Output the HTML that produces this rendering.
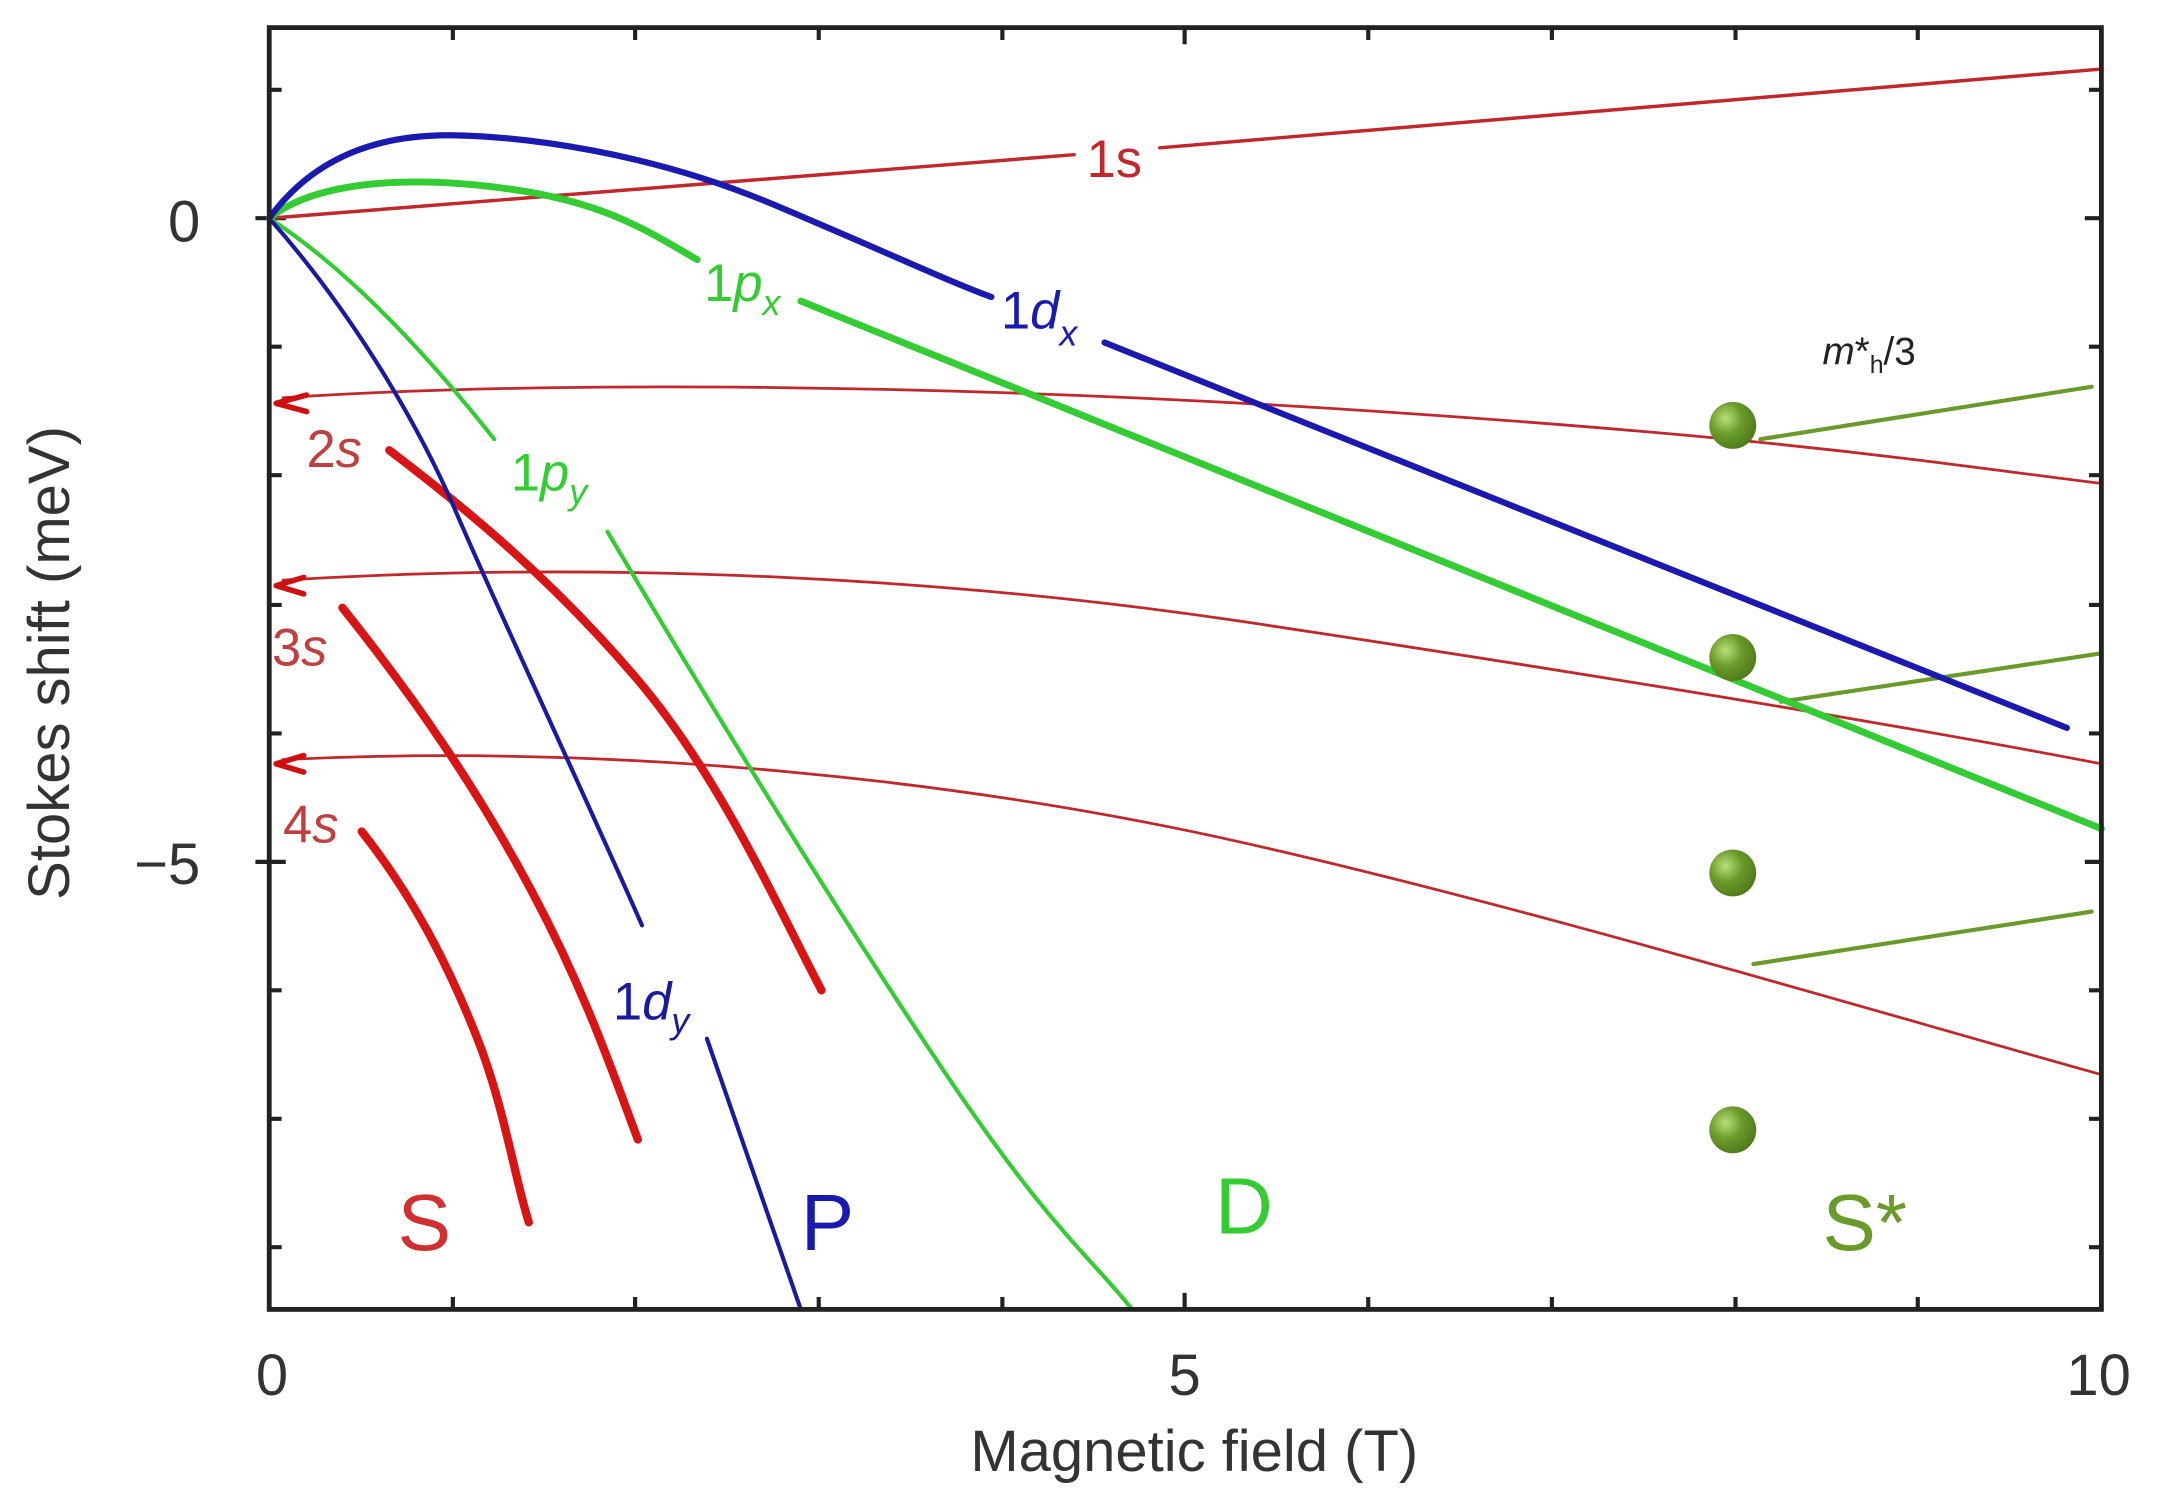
<!DOCTYPE html>
<html><head><meta charset="utf-8"><style>
html,body{margin:0;padding:0;background:#fff;}
svg{display:block;}
text{font-family:"Liberation Sans",sans-serif;}
</style></head><body>
<svg width="2158" height="1500" viewBox="0 0 1563 1086" preserveAspectRatio="none" xmlns="http://www.w3.org/2000/svg">
<rect width="1563" height="1086" fill="#fff"/>
<g stroke="#222" stroke-width="3">
<path d="M328,20v9M460,20v9M593,20v9M726,20v9M858,20v12M991,20v9M1124,20v9M1257,20v9M1389,20v9"/>
<path d="M328,948v-9M460,948v-9M593,948v-9M726,948v-9M858,948v-12M991,948v-9M1124,948v-9M1257,948v-9M1389,948v-9"/>
<path d="M195,65h9M195,158h12M195,251h9M195,344h9M195,438h9M195,531h9M195,624h12M195,717h9M195,810h9M195,903h9"/>
<path d="M1522,65h-9M1522,158h-12M1522,251h-9M1522,344h-9M1522,438h-9M1522,531h-9M1522,624h-12M1522,717h-9M1522,810h-9M1522,903h-9"/>
<path d="M185,158h10M185,624h10"/>
</g>
<g fill="none" stroke-linecap="round">
<path d="M195,158 L778,112 M840,107 L1522,50" stroke="#c0282c" stroke-width="2.5"/>
<path d="M205,288 C400,275 700,278 1000,298 S1400,335 1522,350" stroke="#c0282c" stroke-width="2"/>
<path d="M205,420 C450,405 700,420 900,450 S1350,520 1522,553" stroke="#c0282c" stroke-width="2"/>
<path d="M205,550 C450,538 700,565 900,610 S1350,730 1522,778" stroke="#c0282c" stroke-width="2"/>
<path d="M200,292 l22,-6 M200,292 l22,6" stroke="#d01010" stroke-width="4"/>
<path d="M200,424 l20,-6 M200,424 l20,6" stroke="#d01010" stroke-width="4"/>
<path d="M200,553 l20,-6 M200,553 l20,6" stroke="#d01010" stroke-width="4"/>
<path d="M282,326 C340,370 400,420 460,490 S560,650 595,717" stroke="#d81414" stroke-width="6"/>
<path d="M248,440 C300,505 345,570 385,645 S445,780 462,825" stroke="#d81414" stroke-width="6"/>
<path d="M262,602 C300,650 325,700 345,750 S372,850 383,885" stroke="#d81414" stroke-width="6"/>
<path d="M1275,318 L1515,280 M1290,508 L1522,473 M1270,698 L1515,660" stroke="#6a9a2a" stroke-width="3"/>
<path d="M195,158 C260,200 320,270 358,318" stroke="#33cc33" stroke-width="3"/>
<path d="M440,385 C520,520 600,650 680,770 S790,910 820,948" stroke="#33cc33" stroke-width="3"/>
<path d="M195,158 C250,220 300,300 330,370 S430,590 465,670" stroke="#1a1aa0" stroke-width="3"/>
<path d="M512,752 L580,948" stroke="#1a1aa0" stroke-width="3"/>
<path d="M195,158 C230,130 300,127 370,137 S470,168 505,188" stroke="#33cc33" stroke-width="5"/>
<path d="M580,218 L1522,600" stroke="#33cc33" stroke-width="5"/>
<path d="M195,158 C230,110 280,97 330,98 S470,110 560,148 S690,205 718,215" stroke="#1a1ab0" stroke-width="4.5"/>
<path d="M800,248 L1497,527" stroke="#1a1ab0" stroke-width="4.5"/>
</g>
<defs><radialGradient id="g" cx="0.35" cy="0.35" r="0.7"><stop offset="0" stop-color="#b8e07a"/><stop offset="0.5" stop-color="#6a9a2a"/><stop offset="1" stop-color="#4e7a1a"/></radialGradient></defs>
<g fill="url(#g)"><circle cx="1255" cy="308" r="17"/><circle cx="1255" cy="476" r="17"/><circle cx="1255" cy="632" r="17"/><circle cx="1255" cy="818" r="17"/></g>
<rect x="195" y="20" width="1327" height="928" fill="none" stroke="#222" stroke-width="3.5"/>
<g font-size="38">
<text x="787" y="128" fill="#c0282c">1s</text>
<text x="510" y="218" fill="#33cc33">1<tspan font-style="italic">p</tspan><tspan font-size="26" dy="10" font-style="italic">x</tspan></text>
<text x="725" y="238" fill="#1a1ab0">1<tspan font-style="italic">d</tspan><tspan font-size="26" dy="12" font-style="italic">x</tspan></text>
<text x="370" y="355" fill="#33cc33">1<tspan font-style="italic">p</tspan><tspan font-size="26" dy="10" font-style="italic">y</tspan></text>
<text x="444" y="738" fill="#1a1aa0">1<tspan font-style="italic">d</tspan><tspan font-size="26" dy="10" font-style="italic">y</tspan></text>
<text x="222" y="338" fill="#c04040">2<tspan font-style="italic">s</tspan></text>
<text x="197" y="482" fill="#c04040">3<tspan font-style="italic">s</tspan></text>
<text x="205" y="610" fill="#c04040">4<tspan font-style="italic">s</tspan></text>
</g>
<text x="1320" y="264" font-size="28" fill="#222"><tspan font-style="italic">m</tspan>*<tspan font-size="18" dy="6">h</tspan><tspan dy="-6">/3</tspan></text>
<g font-size="58">
<text x="288" y="905" fill="#d03030">S</text>
<text x="580" y="905" fill="#1a1ab0">P</text>
<text x="880" y="893" fill="#33cc33">D</text>
<text x="1320" y="905" fill="#6a9a2a">S*</text>
</g>
<g font-size="42" fill="#333">
<text x="145" y="175" text-anchor="end">0</text>
<text x="145" y="640" text-anchor="end">−5</text>
<text x="197" y="1010" text-anchor="middle">0</text>
<text x="858" y="1010" text-anchor="middle">5</text>
<text x="1520" y="1010" text-anchor="middle">10</text>
<text x="865" y="1065" text-anchor="middle">Magnetic field (T)</text>
<text transform="translate(50,480) rotate(-90)" text-anchor="middle">Stokes shift (meV)</text>
</g>
</svg>
</body></html>
